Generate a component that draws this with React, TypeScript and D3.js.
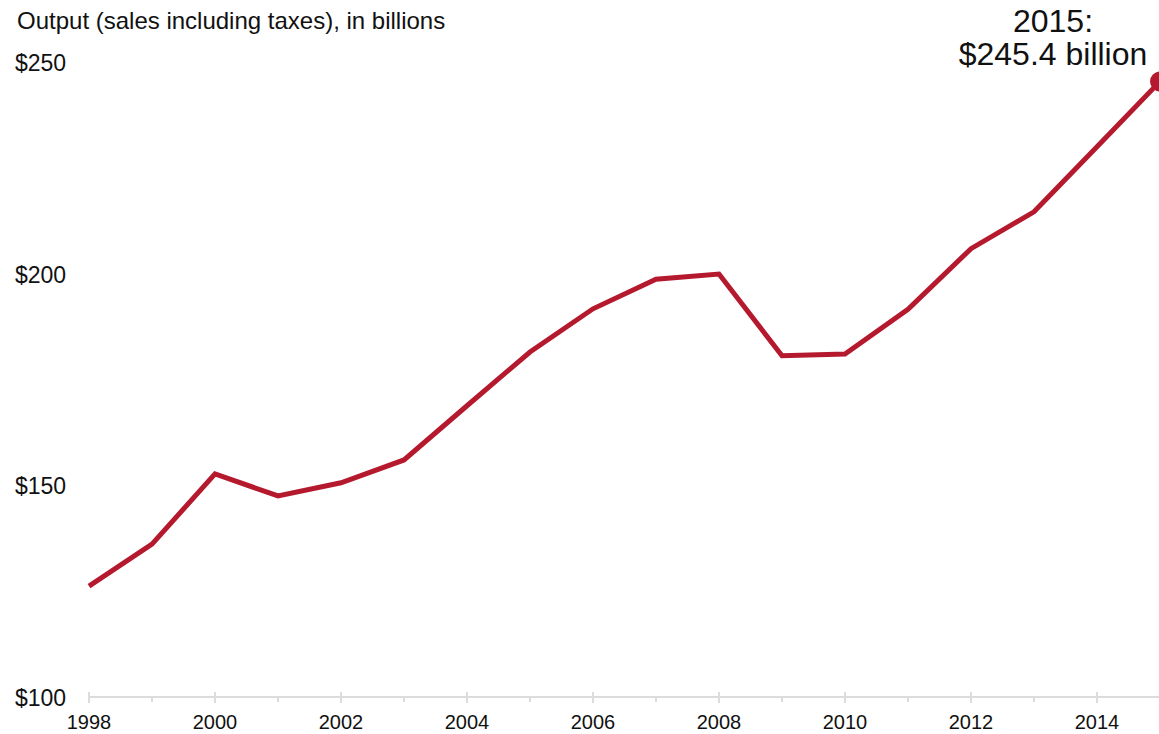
import React from "react";
import * as d3 from "d3";

const years = [1998, 1999, 2000, 2001, 2002, 2003, 2004, 2005, 2006, 2007, 2008, 2009, 2010, 2011, 2012, 2013, 2014, 2015];
const output = [126.2, 136.1, 152.7, 147.5, 150.6, 156.0, 168.8, 181.5, 191.7, 198.7, 199.9, 180.6, 181.0, 191.6, 205.9, 214.6, 230.0, 245.4];
const yTicks = [100, 150, 200, 250];
const xMajorTicks = [1998, 2000, 2002, 2004, 2006, 2008, 2010, 2012, 2014];
const xMinorTicks = [1999, 2001, 2003, 2005, 2007, 2009, 2011, 2013, 2015];
const title = "Output (sales including taxes), in billions";
const annotationLines = ["2015:", "$245.4 billion"];

const W = 1159;
const H = 734;
const FONT = "'Liberation Sans', Arial, Helvetica, sans-serif";
const RED = "#b5192e";

export default function App() {
  const x = d3.scaleLinear().domain([1998, 2015]).range([89, 1160]);
  const y = d3.scaleLinear().domain([100, 250]).range([697, 62]);
  const data = years.map((yr, i) => ({ yr, v: output[i] }));
  const line = d3
    .line<{ yr: number; v: number }>()
    .x((d) => x(d.yr))
    .y((d) => y(d.v));
  const last = data[data.length - 1];

  return (
    <svg
      width={W}
      height={H}
      style={{ position: "absolute", left: 0, top: 0, background: "#fff" }}
      fontFamily={FONT}
    >
      <text x={17} y={29} fontSize={24} fill="#111">
        {title}
      </text>
      {yTicks.map((t) => (
        <text key={t} x={15} y={y(t) + 9} fontSize={23} fill="#111">
          {"$" + t}
        </text>
      ))}
      <line x1={x(1998)} x2={W} y1={y(100)} y2={y(100)} stroke="#dcdcdc" strokeWidth={2} />
      {xMajorTicks.map((t) => (
        <line key={t} x1={x(t)} x2={x(t)} y1={y(100) - 5} y2={y(100) + 6} stroke="#dcdcdc" strokeWidth={2} />
      ))}
      {xMinorTicks.map((t) => (
        <line key={t} x1={x(t)} x2={x(t)} y1={y(100)} y2={y(100) + 5} stroke="#dcdcdc" strokeWidth={2} />
      ))}
      {xMajorTicks.map((t) => (
        <text key={t} x={x(t)} y={729} fontSize={20} textAnchor="middle" fill="#111">
          {t}
        </text>
      ))}
      <path d={line(data) || ""} fill="none" stroke={RED} strokeWidth={5} strokeLinejoin="miter" />
      <circle cx={x(last.yr)} cy={y(last.v)} r={10} fill={RED} />
      {annotationLines.map((s, i) => (
        <text key={i} x={1053} y={32 + i * 33} fontSize={32} textAnchor="middle" fill="#111">
          {s}
        </text>
      ))}
    </svg>
  );
}
